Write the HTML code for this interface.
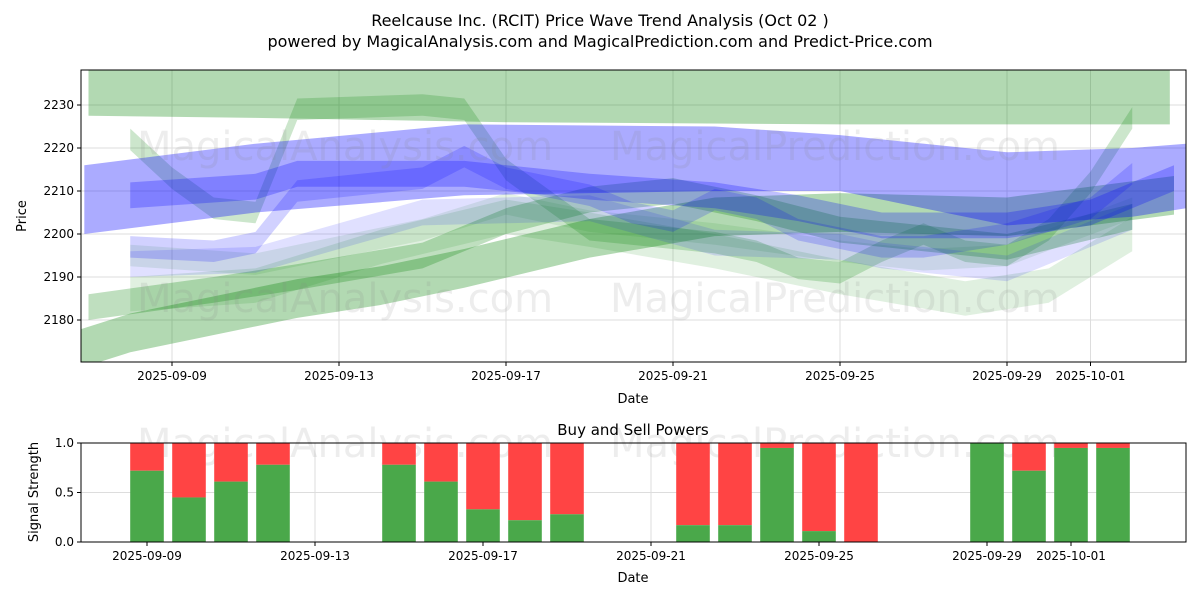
<!DOCTYPE html>
<html><head><meta charset="utf-8"><style>
body{margin:0;background:#fff;font-family:"Liberation Sans","DejaVu Sans",sans-serif}
svg text{font-family:"DejaVu Sans","Liberation Sans",sans-serif}
</style></head><body>
<svg id="c" width="1200" height="600" xmlns="http://www.w3.org/2000/svg"></svg>
<script>
// ---- data ----
const dateLabels=["2025-09-09","2025-09-13","2025-09-17","2025-09-21","2025-09-25","2025-09-29","2025-10-01"];
const dateTickDays=[2,6,10,14,18,22,24]; // days after 2025-09-07
const priceTicks=[2180,2190,2200,2210,2220,2230];
const g1Days=[0,4,10,18,25.9];
const g1Hi=[2240,2240,2240,2240,2240];
const g1Lo=[2227.5,2227,2226,2225.5,2225.5];
const g2Days=[-0.3,1,3,5,7,9,12,15,18,22,26];
const g2Mid=[2173,2177,2181,2185,2188,2192,2199,2204,2205,2204,2209];
const g3Days=[0,3,5,8,10,12,14,16,18,20,22,25];
const g3Mid=[2183,2187,2190,2195,2203,2208,2210,2206,2201,2199,2197,2204];
const g4Days=[1,2,3,4,5,8,9,10,12,15,16,17,18,19,20,21,22,23,24,25];
const g4Mid=[2222,2213,2206,2205,2229,2230,2229,2215,2201,2198,2196,2192,2191,2196,2200,2196,2195,2201,2212,2227];
const g5Days=[1,4,7,10,12,15,18,21,23,25];
const g5Mid=[2186,2188,2197,2204,2201,2196,2190,2185,2188,2200];
const g6Days=[1,4,8,10,12,15,18,20,22,25];
const g6Mid=[2195,2193,2201,2207,2203,2200,2196,2194,2195,2206];
const b1Days=[-0.1,4,9,15,18,19,22,25,26.3];
const b1Hi=[2216,2221,2225.5,2225,2223,2222,2219,2220,2221];
const b1Lo=[2200,2205,2209,2210,2210,2208,2202,2204,2206];
const b2Days=[1,4,5,9,12,15,17,19,22,24,26];
const b2Mid=[2209,2211,2214,2214,2211,2209,2206,2202,2202,2205,2213];
const b3Days=[1,3,4,5,8,9,10,12,13,14,15,16,17,18,19,20,22,24,25];
const b3Mid=[2197,2196,2198,2210,2213,2218,2213,2209,2205,2203,2208,2206,2201,2199,2197,2197,2200,2206,2214];
const b4Days=[1,4,8,12,15,18,19,22,25];
const b4Mid=[2193,2194,2205,2206,2198,2197,2195,2192,2204];
const barDays=[2,3,4,5,8,9,10,11,12,15,16,17,18,19,22,23,24,25];
const buyVals=[0.72,0.45,0.61,0.78,0.78,0.61,0.33,0.22,0.28,0.17,0.17,0.95,0.11,0.0,1.0,0.72,0.95,0.95];

// ---- drawing ----
const svg=document.getElementById('c');const NS='http://www.w3.org/2000/svg';
function el(t,a,p){const e=document.createElementNS(NS,t);for(const k in a)e.setAttribute(k,a[k]);(p||svg).appendChild(e);return e;}
const X0=81,X1=1186;
const x=d=>88.5+d*41.75;
const xb=d=>63+d*42;
const y=v=>105+(2230-v)*4.3;
const yb=v=>542-v*99;
const T1=70,B1=362,T2=443,B2=542;
function txt(s,a,p){const t=el('text',a,p);t.textContent=s;return t;}

const tt=txt('Reelcause Inc. (RCIT) Price Wave Trend Analysis (Oct 02 )',{x:600,y:26,'text-anchor':'middle','font-size':16,fill:'#000'});

const st=txt('powered by MagicalAnalysis.com and MagicalPrediction.com and Predict-Price.com',{x:600,y:47,'text-anchor':'middle','font-size':16,fill:'#000'});


const defs=el('defs',{});const cp=el('clipPath',{id:'cp1'},defs);
el('rect',{x:X0,y:T1,width:X1-X0,height:B1-T1},cp);

const grid=el('g',{});
dateTickDays.forEach(d=>{el('line',{x1:x(d),x2:x(d),y1:T1,y2:B1,stroke:'#ddd','stroke-width':1},grid);el('line',{x1:xb(d),x2:xb(d),y1:T2,y2:B2,stroke:'#ddd','stroke-width':1},grid);});
priceTicks.forEach(v=>el('line',{x1:X0,x2:X1,y1:y(v),y2:y(v),stroke:'#ddd','stroke-width':1},grid));
[0,0.5,1].forEach(v=>el('line',{x1:X0,x2:X1,y1:yb(v),y2:yb(v),stroke:'#ddd','stroke-width':1},grid));

const plot=el('g',{'clip-path':'url(#cp1)'});
function band(days,hi,lo,color,op,name){
  let pts=days.map((d,i)=>x(d)+','+y(hi[i]));
  for(let i=days.length-1;i>=0;i--)pts.push(x(days[i])+','+y(lo[i]));
  const p=el('polygon',{points:pts.join(' '),fill:color,'fill-opacity':op,'stroke':'none'},plot);
  
}
function bandMid(days,mid,hw,color,op,name){band(days,mid.map(v=>v+hw),mid.map(v=>v-hw),color,op,name);}
const G='#008000',B='#0000ff';
band(g1Days,g1Hi,g1Lo,G,0.3,'green-band-top');
bandMid(g6Days,g6Mid,2.5,G,0.1,'green-band-pale');
bandMid(g5Days,g5Mid,4,G,0.12,'green-band-light');
bandMid(g2Days,g2Mid,4.5,G,0.3,'green-band-rising');
bandMid(g3Days,g3Mid,3,G,0.25,'green-band-mid');
bandMid(g4Days,g4Mid,2.5,G,0.2,'green-band-wave');
bandMid(b4Days,b4Mid,3,B,0.12,'blue-band-pale');
band(b1Days,b1Hi,b1Lo,B,0.33,'blue-band-main');
bandMid(b2Days,b2Mid,3,B,0.25,'blue-band-inner');
bandMid(b3Days,b3Mid,2.5,B,0.18,'blue-band-wave');

[[345,160],[835,160],[345,312],[835,312],[345,457],[835,457]].forEach((p,i)=>{
  const w=txt(i%2?'MagicalPrediction.com':'MagicalAnalysis.com',{x:p[0],y:p[1],'text-anchor':'middle','font-size':40,fill:'#888','fill-opacity':0.15});
  
});

// bars
const bw=0.8*42;
barDays.forEach((d,i)=>{
  const v=buyVals[i];
  const s=el('rect',{x:xb(d)-bw/2,y:yb(1),width:bw,height:yb(v)-yb(1),fill:'#ff4444'});
  
  const b=el('rect',{x:xb(d)-bw/2,y:yb(v),width:bw,height:yb(0)-yb(v),fill:'#4aa84a'});
  
});

const f1=el('rect',{x:X0,y:T1,width:X1-X0,height:B1-T1,fill:'none',stroke:'#000','stroke-width':1});

const f2=el('rect',{x:X0,y:T2,width:X1-X0,height:B2-T2,fill:'none',stroke:'#000','stroke-width':1});


dateTickDays.forEach((d,i)=>{
  el('line',{x1:x(d),x2:x(d),y1:B1,y2:B1+4,stroke:'#000'});
  const a=txt(dateLabels[i],{x:x(d),y:B1+18,'text-anchor':'middle','font-size':12});
  
  el('line',{x1:xb(d),x2:xb(d),y1:B2,y2:B2+4,stroke:'#000'});
  const b=txt(dateLabels[i],{x:xb(d),y:B2+18,'text-anchor':'middle','font-size':12});
  
});
priceTicks.forEach(v=>{
  el('line',{x1:X0-4,x2:X0,y1:y(v),y2:y(v),stroke:'#000'});
  const a=txt(String(v),{x:X0-7,y:y(v)+4,'text-anchor':'end','font-size':12});
  
});
['0.0','0.5','1.0'].forEach((s,i)=>{
  const v=i*0.5;el('line',{x1:X0-4,x2:X0,y1:yb(v),y2:yb(v),stroke:'#000'});
  const a=txt(s,{x:X0-7,y:yb(v)+4,'text-anchor':'end','font-size':12});
  
});
let l=txt('Date',{x:633,y:403,'text-anchor':'middle','font-size':13});
l=txt('Date',{x:633,y:582,'text-anchor':'middle','font-size':13});
l=txt('Price',{x:0,y:0,'text-anchor':'middle','font-size':13,transform:'translate(26,216) rotate(-90)'});
l=txt('Signal Strength',{x:0,y:0,'text-anchor':'middle','font-size':13,transform:'translate(38,492) rotate(-90)'});
l=txt('Buy and Sell Powers',{x:633,y:435,'text-anchor':'middle','font-size':15});
</script>
</body></html>
